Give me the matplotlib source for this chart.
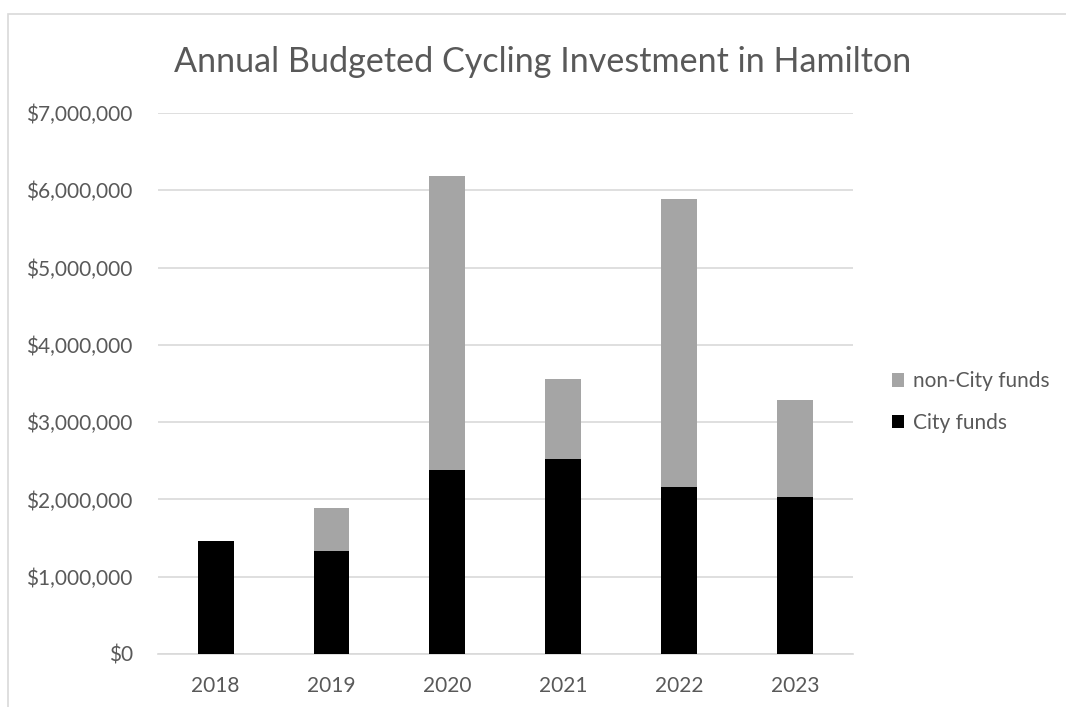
import matplotlib.pyplot as plt
import matplotlib.patches as mpatches
from matplotlib.ticker import FuncFormatter
import numpy as np

# values
years = ["2018", "2019", "2020", "2021", "2022", "2023"]
city_funds = [1467000, 1333000, 2385000, 2528000, 2159000, 2026000]
non_city_funds = [0, 554000, 3800000, 1036000, 3733000, 1261000]

plt.rcParams['font.family'] = ['Lato', 'DejaVu Sans']
text_color = "#595959"

fig = plt.figure(figsize=(10.66, 7.07), dpi=100)
ax = fig.add_axes([0.148, 0.075, 0.652, 0.765])

x = np.arange(len(years))
width = 0.31
ax.bar(x, city_funds, width, color="#000000", label="City funds", zorder=3)
ax.bar(x, non_city_funds, width, bottom=city_funds, color="#A5A5A5",
       label="non-City funds", zorder=3)

ax.set_xlim(-0.5, len(years) - 0.5)
ax.set_ylim(0, 7000000)
ax.set_yticks(np.arange(0, 7000001, 1000000))
ax.yaxis.set_major_formatter(FuncFormatter(lambda v, p: f"${v:,.0f}"))
ax.set_xticks(x)
ax.set_xticklabels(years)

ax.grid(axis="y", color="#D9D9D9", linewidth=1.2, zorder=0)
for side in ["top", "right", "left"]:
    ax.spines[side].set_visible(False)
ax.spines["bottom"].set_color("#D9D9D9")
ax.spines["bottom"].set_linewidth(1.2)
ax.tick_params(length=0, labelsize=15, colors=text_color)
ax.tick_params(axis="y", pad=18)
ax.tick_params(axis="x", pad=16)

fig.text(0.509, 0.913, "Annual Budgeted Cycling Investment in Hamilton",
         ha="center", va="center", fontsize=24.6, color=text_color)

handles, labels = ax.get_legend_handles_labels()
leg = fig.legend(handles[::-1], labels[::-1], loc="center left",
                 bbox_to_anchor=(0.819, 0.431), frameon=False,
                 fontsize=15, handlelength=0.6, handleheight=0.6,
                 handletextpad=0.4, labelspacing=1.05)
for t in leg.get_texts():
    t.set_color(text_color)

# light border round the chart area
fig.patches.append(mpatches.Rectangle((0.0075, -0.01), 1.0, 0.99,
                                      transform=fig.transFigure,
                                      fill=False, edgecolor="#D9D9D9",
                                      linewidth=1.2))

fig.savefig("out.png", dpi=100)
